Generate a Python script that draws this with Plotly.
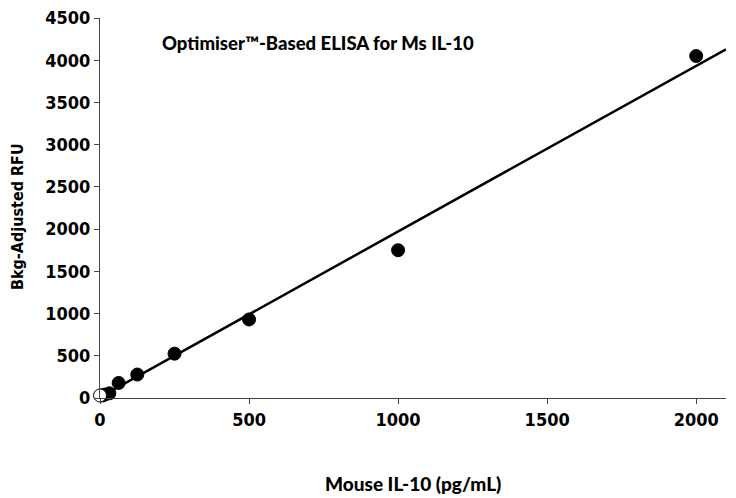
import plotly.graph_objects as go

std_conc = [7.8, 15.6, 31.25, 62.5, 125, 250, 500, 1000, 2000]
std_rfu = [30, 40, 55, 178, 278, 525, 930, 1750, 4050]
blank_conc = [0]
blank_rfu = [30]
fit_x = [0, 2100]
fit_y = [10, 4130]
x_ticks = [0, 500, 1000, 1500, 2000]
y_ticks = [0, 500, 1000, 1500, 2000, 2500, 3000, 3500, 4000, 4500]

narrow = "Liberation Sans Narrow, DejaVu Sans Condensed, Liberation Sans, Arial, sans-serif"
tick_font = dict(family=narrow, size=18, color="black", weight="bold")
calibri_like = "Lato, Open Sans, sans-serif"

fig = go.Figure()
fig.add_trace(go.Scatter(x=fit_x, y=fit_y, mode="lines", line=dict(color="black", width=2.5),
                         showlegend=False, cliponaxis=False))
fig.add_trace(go.Scatter(x=std_conc, y=std_rfu, mode="markers",
                         marker=dict(color="black", size=13, line=dict(color="black", width=1)),
                         showlegend=False, cliponaxis=False))
fig.add_trace(go.Scatter(x=blank_conc, y=blank_rfu, mode="markers",
                         marker=dict(color="white", size=13, line=dict(color="black", width=1)),
                         showlegend=False, cliponaxis=False))

fig.update_layout(
    width=728, height=490,
    margin=dict(l=92, r=10, t=10, b=100),
    plot_bgcolor="white", paper_bgcolor="white",
    xaxis=dict(range=[0, 2100], tickvals=x_ticks, showgrid=False, zeroline=False, automargin=False,
               showline=True, linecolor="#444", linewidth=1, ticks="outside", ticklen=5,
               tickcolor="#444", tickfont=tick_font, ticklabeloverflow="allow"),
    yaxis=dict(range=[0, 4500], tickvals=y_ticks, showgrid=False, zeroline=False, automargin=False,
               showline=True, linecolor="#444", linewidth=1, ticks="outside", ticklen=5,
               tickcolor="#444", tickfont=tick_font, ticklabeloverflow="allow"),
    annotations=[
        dict(text="Optimiser™-Based ELISA for Ms IL-10", xref="paper", yref="paper",
             x=0.0958, y=0.934, xanchor="left", yanchor="middle", showarrow=False,
             font=dict(family=calibri_like, size=18.5, color="black", weight=900)),
        dict(text="Mouse IL-10 (pg/mL)", xref="paper", yref="paper",
             x=0.5, y=-0.2237, xanchor="center", yanchor="middle", showarrow=False,
             font=dict(family=calibri_like, size=19, color="black", weight=900)),
        dict(text="Bkg-Adjusted RFU", xref="paper", yref="paper", textangle=-90,
             x=-0.131, y=0.479, xanchor="center", yanchor="middle", showarrow=False,
             font=dict(family=narrow, size=16, color="black", weight="bold")),
    ],
)
fig.write_html("out.html")
